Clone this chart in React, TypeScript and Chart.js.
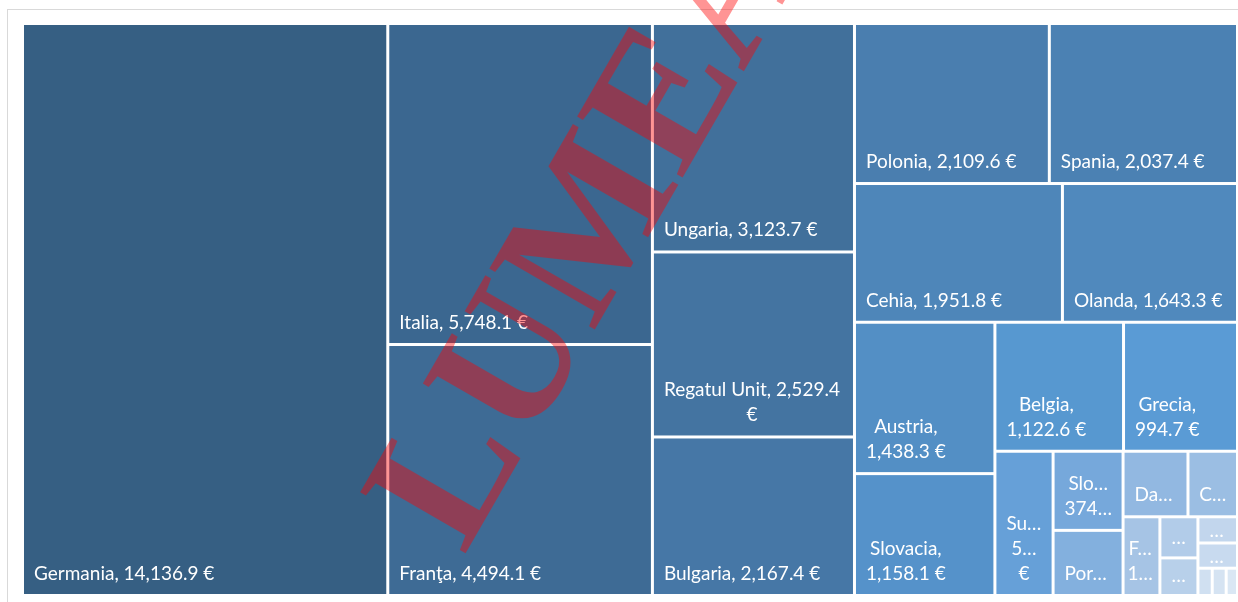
import React, { useEffect, useRef } from "react";
import { Chart, registerables } from "chart.js";

Chart.register(...registerables);

// ---- data ----
const countries = [
  "Germania", "Italia", "Franţa", "Ungaria", "Regatul Unit", "Bulgaria",
  "Polonia", "Spania", "Cehia", "Olanda", "Austria", "Slovacia", "Belgia",
  "Grecia", "Suedia", "Slovenia", "Portugalia", "Danemarca", "Croaţia",
  "Finlanda", "Lituania", "Irlanda", "Letonia", "Estonia", "Cipru",
  "Luxemburg", "Malta",
];
const amounts = [
  14136.9, 5748.1, 4494.1, 3123.7, 2529.4, 2167.4, 2109.6, 2037.4, 1951.8,
  1643.3, 1438.3, 1158.1, 1122.6, 994.7, 567.8, 374.6, 308.4, 287.9, 219.6,
  196.3, 105.8, 96.7, 70.2, 67.5, 26.4, 25.8, 20.9,
];
// strip grouping of the treemap (how many tiles per strip, and strip direction)
const stripCounts = [1, 2, 3, 2, 2, 2, 2, 1, 2, 2, 1, 2, 1, 1, 3];
const stripDirs = ["col", "col", "col", "row", "row", "col", "row", "col", "col", "row", "col", "col", "row", "row", "row"];
const currency = "€";
const watermarkText = "LUMEA";

// ---- style ----
const tileColors = [
  "#365f83", "#3b6790", "#3e6b95", "#41709b", "#4474a1", "#4677a6", "#4a7eaf",
  "#4b81b3", "#4e86b9", "#5089bd", "#538fc5", "#5592ca", "#5798d0", "#5a9bd5",
  "#66a0d8", "#76a8db", "#83b0de", "#92b8e1", "#9bbee3", "#a6c4e5", "#b2cce9",
  "#b8d0ea", "#c2d6ed", "#c8daef", "#d0e0f1", "#d5e3f2", "#dae7f4",
];
const FONT = '19px "Lato"';
const LINE_H = 25;
const GAP = 1.5;

function fmtNumber(v: number): string {
  const fixed = v.toFixed(1);
  const [ip, dp] = fixed.split(".");
  const withSep = ip.replace(/\B(?=(\d{3})+(?!\d))/g, ",");
  return `${withSep}.${dp} ${currency}`;
}

type Rect = { x: number; y: number; w: number; h: number; i: number };

function layoutStrips(values: number[], counts: number[], dirs: string[], x: number, y: number, w: number, h: number): Rect[] {
  const rects: Rect[] = [];
  let remaining = values.reduce((a, b) => a + b, 0);
  let idx = 0;
  counts.forEach((c, s) => {
    const group = values.slice(idx, idx + c);
    const gsum = group.reduce((a, b) => a + b, 0);
    if (dirs[s] === "col") {
      const cw = (w * gsum) / remaining;
      let cy = y;
      group.forEach((v, k) => {
        const hh = (h * v) / gsum;
        rects.push({ x, y: cy, w: cw, h: hh, i: idx + k });
        cy += hh;
      });
      x += cw;
      w -= cw;
    } else {
      const rh = (h * gsum) / remaining;
      let cx = x;
      group.forEach((v, k) => {
        const ww = (w * v) / gsum;
        rects.push({ x: cx, y, w: ww, h: rh, i: idx + k });
        cx += ww;
      });
      y += rh;
      h -= rh;
    }
    remaining -= gsum;
    idx += c;
  });
  return rects;
}

function truncateWord(ctx: CanvasRenderingContext2D, word: string, avail: number): string {
  if (ctx.measureText(word).width <= avail) return word;
  for (let n = word.length - 1; n >= 1; n--) {
    const t = word.slice(0, n) + "…";
    if (ctx.measureText(t).width <= avail) return t;
  }
  return "…";
}

function buildLines(ctx: CanvasRenderingContext2D, text: string, w: number, h: number) {
  if (w < 22 || h < 18) return { lines: [] as string[], pad: 0 };
  const narrow = w < 40 && h >= 60;
  const pad = narrow ? 3 : 10;
  const avail = w - 2 * pad + 1;
  if (ctx.measureText(text).width <= avail) return { lines: [text], pad };
  const words = text.split(" ");
  const lines: string[] = [];
  let cur = "";
  for (const wd of words) {
    const cand = cur ? cur + " " + wd : wd;
    if (ctx.measureText(cand).width <= avail) cur = cand;
    else {
      if (cur) lines.push(cur);
      cur = wd;
    }
  }
  if (cur) lines.push(cur);
  let out = lines.map((l) => truncateWord(ctx, l, avail));
  const maxLines = Math.max(1, Math.floor((h - 16) / LINE_H));
  if (out.length > maxLines) {
    out = out.slice(0, maxLines);
    const last = out[maxLines - 1];
    if (!last.endsWith("…")) out[maxLines - 1] = truncateWord(ctx, last + "…", avail);
  }
  return { lines: out, pad };
}

const treemapPlugin = {
  id: "treemapTiles",
  afterDatasetsDraw(chart: any) {
    const { ctx, scales } = chart;
    const ds = chart.data.datasets[0];
    const vals: number[] = ds.tree;
    const names: string[] = ds.names;
    const left = scales.x.getPixelForValue(0);
    const right = scales.x.getPixelForValue(1);
    const top = scales.y.getPixelForValue(1);
    const bottom = scales.y.getPixelForValue(0);
    const rects = layoutStrips(vals, stripCounts, stripDirs, left, top, right - left, bottom - top);
    ctx.save();
    rects.forEach((r) => {
      const x = r.x + GAP, y = r.y + GAP, w = r.w - 2 * GAP, h = r.h - 2 * GAP;
      ctx.fillStyle = tileColors[r.i];
      ctx.fillRect(x, y, w, h);
      ctx.font = FONT;
      const text = `${names[r.i]}, ${fmtNumber(vals[r.i])}`;
      const { lines, pad } = buildLines(ctx, text, w, h);
      if (!lines.length) return;
      ctx.save();
      ctx.beginPath();
      ctx.rect(x, y, w, h);
      ctx.clip();
      ctx.fillStyle = "#ffffff";
      ctx.textBaseline = "alphabetic";
      ctx.textAlign = "center";
      const blockW = Math.max(...lines.map((l) => ctx.measureText(l).width));
      const cx = lines.length === 1 && blockW > w - 2 * pad ? x + w / 2 : x + pad + blockW / 2;
      const bpad = h >= 40 ? 14 : h >= 30 ? 12 : 4;
      const lastBase = y + h - bpad;
      lines.forEach((l, k) => {
        ctx.fillText(l, cx, lastBase - (lines.length - 1 - k) * LINE_H);
      });
      ctx.restore();
    });
    ctx.restore();
  },
};

const watermarkPlugin = {
  id: "watermark",
  afterDraw(chart: any) {
    const { ctx } = chart;
    ctx.save();
    ctx.translate(464, 556);
    ctx.rotate(-Math.PI / 3);
    ctx.font = 'bold 186px "Liberation Serif"';
    ctx.fillStyle = "rgba(255,0,0,0.42)";
    ctx.textBaseline = "alphabetic";
    ctx.textAlign = "left";
    ctx.fillText(watermarkText, 0, 0);
    ctx.restore();
  },
};

export default function App() {
  const ref = useRef<HTMLCanvasElement | null>(null);
  useEffect(() => {
    if (!ref.current) return;
    const chart = new Chart(ref.current, {
      type: "scatter",
      data: {
        datasets: [
          {
            label: "Valoare",
            data: [],
            tree: amounts,
            names: countries,
          } as any,
        ],
      },
      options: {
        animation: false,
        responsive: false,
        maintainAspectRatio: false,
        layout: { padding: { left: 22.5, top: 23.5, right: 0.5, bottom: 6.5 } },
        plugins: { legend: { display: false }, tooltip: { enabled: false } },
        scales: {
          x: { type: "linear", min: 0, max: 1, display: false },
          y: { type: "linear", min: 0, max: 1, display: false },
        },
      },
      plugins: [treemapPlugin, watermarkPlugin],
    });
    return () => chart.destroy();
  }, []);

  return (
    <div style={{ position: "fixed", left: 0, top: 0, width: 1238, height: 602, overflow: "hidden", background: "#fff" }}>
      <div style={{ position: "absolute", left: 7, top: 9, width: 1300, height: 700, border: "1px solid #d9d9d9", boxSizing: "border-box" }} />
      <canvas ref={ref} width={1238} height={602} style={{ position: "absolute", left: 0, top: 0 }} />
    </div>
  );
}
